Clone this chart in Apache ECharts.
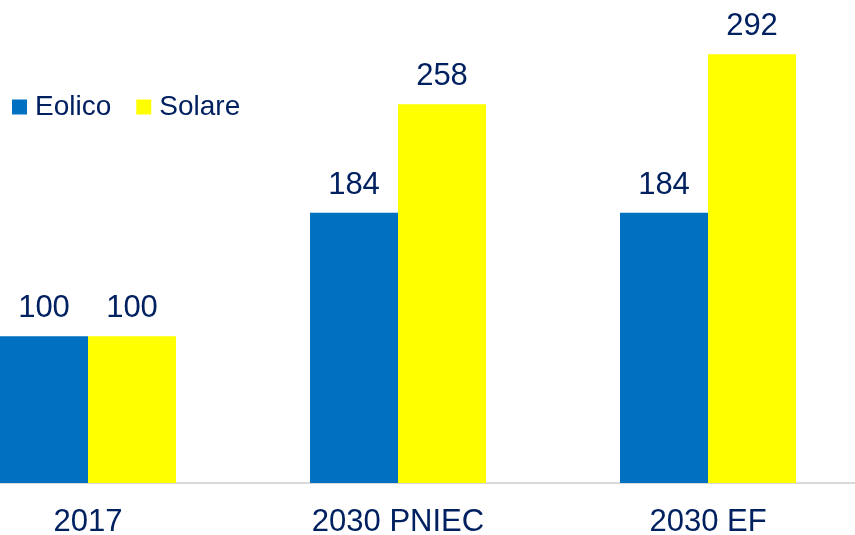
<!DOCTYPE html>
<html>
<head>
<meta charset="utf-8">
<script src="https://cdn.jsdelivr.net/npm/echarts@6/dist/echarts.min.js"></script>
<style>html,body{margin:0;padding:0;background:#fff}#c{width:855px;height:535px}</style>
</head>
<body>
<div id="c"></div>
<script>
const categories = ['2017', '2030 PNIEC', '2030 EF'];
const eolico = [100, 184, 184];
const solare = [100, 258, 292];
const seriesNames = ['Eolico', 'Solare'];

const FONT = '"Liberation Sans", Arial, sans-serif';
const TXT = '#002060';
const chart = echarts.init(document.getElementById('c'));
const lbl = {show: true, position: 'top', distance: 12, color: TXT, fontSize: 31, fontFamily: FONT};
chart.setOption({
  animation: false,
  legend: {
    data: seriesNames, left: 7, top: 88, itemWidth: 15, itemHeight: 15, itemGap: 25,
    icon: 'rect',
    textStyle: {color: TXT, fontSize: 28, fontFamily: FONT, padding: [0, 0, 0, 3]}
  },
  grid: {left: -67, right: -8, top: 0, bottom: 52, containLabel: false, outerBoundsMode: 'none'},
  xAxis: {
    type: 'category', data: categories,
    axisLine: {show: true, lineStyle: {color: '#D9D9D9', width: 2}},
    axisTick: {show: false},
    axisLabel: {color: TXT, fontSize: 31, fontFamily: FONT, margin: 24}
  },
  yAxis: {type: 'value', min: 0, max: 329, show: false, splitLine: {show: false}},
  series: [
    {name: seriesNames[0], type: 'bar', data: eolico, barWidth: 88, barGap: '0%', itemStyle: {color: '#0070C0'}, label: lbl},
    {name: seriesNames[1], type: 'bar', data: solare, barWidth: 88, barGap: '0%', itemStyle: {color: '#FFFF00'}, label: lbl}
  ]
});
</script>
</body>
</html>
